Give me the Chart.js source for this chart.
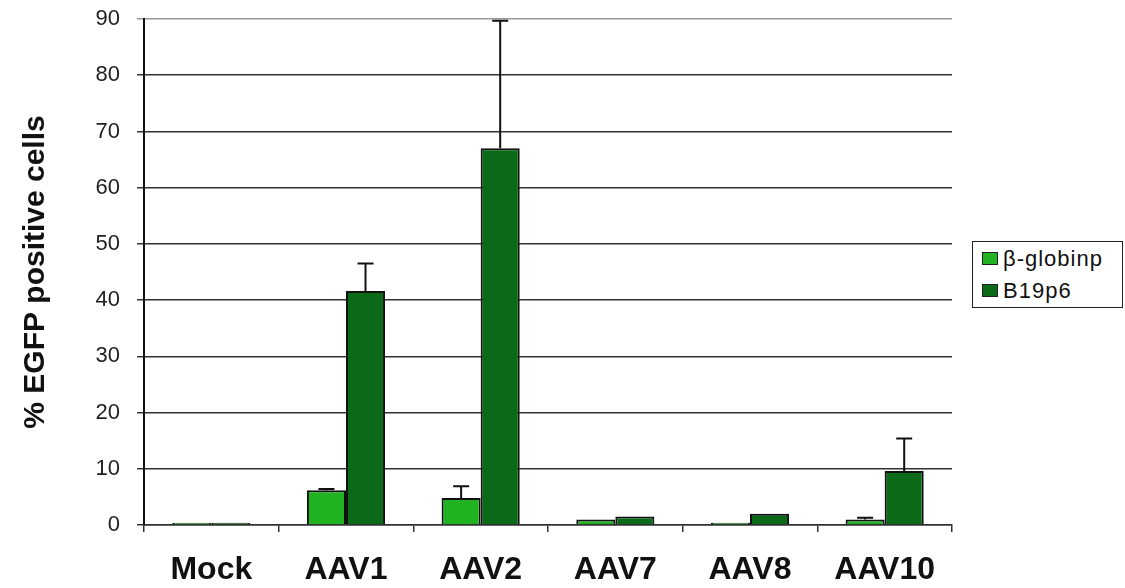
<!DOCTYPE html>
<html>
<head>
<meta charset="utf-8">
<script src="https://cdn.jsdelivr.net/npm/chart.js@4"></script>
<style>
  html, body { margin: 0; padding: 0; background: #fff; }
  #wrap { position: relative; width: 1125px; height: 588px; }
  #legend {
    position: absolute; left: 972px; top: 241px; width: 149px; height: 65px;
    border: 1.5px solid #222; background: #fff;
    font-family: "Liberation Sans", Arial, sans-serif; font-size: 22px; letter-spacing: 1px; color: #111;
  }
  #legend .item { position: absolute; left: 9px; height: 24px; line-height: 24px; }
  #legend .sw { display: inline-block; width: 14px; height: 11px; border: 1px solid #222; margin-right: 5px; vertical-align: 1px; }
</style>
</head>
<body>
<div id="wrap">
  <canvas id="chart" width="1125" height="588"></canvas>
  <div id="legend"></div>
</div>
<script>
const categories = ['Mock', 'AAV1', 'AAV2', 'AAV7', 'AAV8', 'AAV10'];
const globinValues = [0.4, 6.2, 4.8, 1.0, 0.4, 1.0];
const globinErrors = [0, 0.2, 2.1, 0, 0, 0.3];
const b19Values = [0.4, 41.6, 67.0, 1.5, 2.0, 9.6];
const b19Errors = [0, 4.9, 22.7, 0, 0, 5.8];
const yTicks = [0, 10, 20, 30, 40, 50, 60, 70, 80, 90];

const lightGreen = '#22b322';
const darkGreen = '#0b6a17';

// only the upper half of each error bar is drawn, like in the original figure
const errorBars = {
  id: 'errorBars',
  afterDatasetsDraw(chart) {
    const ctx = chart.ctx;
    const y = chart.scales.y;
    chart.data.datasets.forEach((ds, di) => {
      const meta = chart.getDatasetMeta(di);
      meta.data.forEach((bar, i) => {
        const err = ds.errors[i];
        if (!err) return;
        const top = y.getPixelForValue(ds.data[i] + err);
        ctx.save();
        ctx.strokeStyle = '#111';
        ctx.lineWidth = 2;
        ctx.beginPath();
        ctx.moveTo(bar.x, bar.y);
        ctx.lineTo(bar.x, top);
        ctx.moveTo(bar.x - 8, top);
        ctx.lineTo(bar.x + 8, top);
        ctx.stroke();
        ctx.restore();
      });
    });
  }
};

const chart = new Chart(document.getElementById('chart'), {
  type: 'bar',
  data: {
    labels: categories,
    datasets: [
      { label: 'β-globinp', data: globinValues, errors: globinErrors,
        backgroundColor: lightGreen, borderColor: '#111', borderWidth: 2 },
      { label: 'B19p6', data: b19Values, errors: b19Errors,
        backgroundColor: darkGreen, borderColor: '#111', borderWidth: 2 }
    ]
  },
  options: {
    responsive: false,
    animation: false,
    layout: { padding: { top: 19, right: 173, left: 0, bottom: 0 } },
    datasets: { bar: { categoryPercentage: 0.58, barPercentage: 1.0 } },
    plugins: { legend: { display: false }, tooltip: { enabled: false } },
    scales: {
      x: {
        afterFit: s => { s.height = 63; },
        grid: { drawOnChartArea: false, drawTicks: true, tickLength: 7, offset: true, color: '#333', lineWidth: 1.5 },
        border: { color: '#333', width: 1.5 },
        ticks: { color: '#111', font: { family: 'Liberation Sans', size: 32, weight: 'bold' }, padding: 19 }
      },
      y: {
        min: 0, max: 90,
        afterFit: s => { s.width = 144; s.paddingTop = 0; s.paddingBottom = 0; },
        afterBuildTicks: s => { s.ticks = yTicks.map(v => ({ value: v })); },
        grid: {
          color: c => c.tick && c.tick.value === 90 ? '#999' : '#333',
          lineWidth: 1.5, drawTicks: true, tickLength: 7
        },
        border: { color: '#111', width: 2 },
        ticks: { color: '#222', font: { family: 'Liberation Sans', size: 22 }, padding: 17 },
        title: {
          display: true, text: '% EGFP positive cells', color: '#111',
          font: { family: 'Liberation Sans', size: 30, weight: 'bold' }, padding: { top: 18 }
        }
      }
    }
  },
  plugins: [errorBars]
});

const legend = document.getElementById('legend');
chart.data.datasets.forEach((ds, i) => {
  const item = document.createElement('div');
  item.className = 'item';
  item.style.top = (5 + i * 32) + 'px';
  item.innerHTML = `<span class="sw" style="background:${ds.backgroundColor}"></span>${ds.label}`;
  legend.appendChild(item);
});
</script>
</body>
</html>
